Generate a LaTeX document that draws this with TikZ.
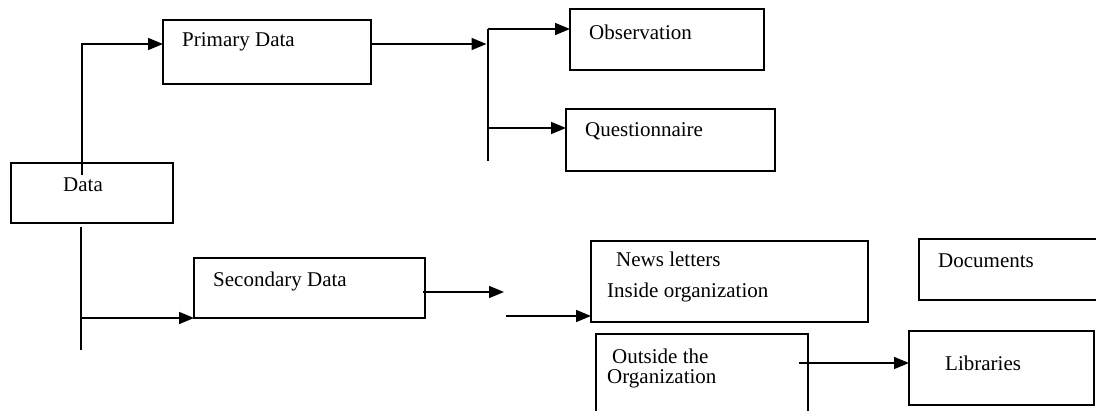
\documentclass[tikz,border=0pt]{standalone}
\usepackage{fontspec}
\setmainfont{Liberation Serif}
\usetikzlibrary{arrows.meta}
\begin{document}
\begin{tikzpicture}[x=1pt,y=-1pt,
  box/.style={draw, line width=1.8pt, inner sep=0pt, outer sep=0pt},
  txt/.style={anchor=west, inner sep=0pt, font=\fontsize{21}{25}\selectfont},
  conn/.style={line width=1.6pt},
  arr/.style={conn, -{Triangle[length=15pt,width=12pt]}}]
\useasboundingbox (0,0) rectangle (1096,411);
% boxes
\node[box, minimum width=162pt, minimum height=60pt] (data) at (92,193) {};
\node[box, minimum width=208pt, minimum height=64pt] (prim) at (267,52) {};
\node[box, minimum width=194pt, minimum height=61pt] (obs) at (667,39.5) {};
\node[box, minimum width=209pt, minimum height=62pt] (ques) at (670.5,140) {};
\node[box, minimum width=231pt, minimum height=60pt] (sec) at (309.5,288) {};
\node[box, minimum width=277pt, minimum height=81pt] (news) at (729.5,281.5) {};
\node[box, minimum width=179pt, minimum height=61pt] (docs) at (1008.5,269.5) {};
\node[box, minimum width=212pt, minimum height=82pt] (out) at (702,375) {};
\node[box, minimum width=185pt, minimum height=74pt] (lib) at (1001.5,368) {};
% texts
\node[txt] (tdata) at (63,185) {Data};
\node[txt] (tprim) at (182,42) {Primary Data};
\node[txt] (tobs) at (589,32) {Observation};
\node[txt] (tques) at (585,131) {Questionnaire};
\node[txt] (tsec) at (213,281) {Secondary Data};
\node[txt] (tnews) at (616,259) {News letters};
\node[txt] (tins) at (607,292) {Inside organization};
\node[txt] (tdocs) at (938,261) {Documents};
\node[txt] (tout1) at (612,356) {Outside the};
\node[txt] (tout2) at (607,379) {Organization};
\node[txt] (tlib) at (945,363) {Libraries};
% junction coordinates
\coordinate (dtop) at (82,175);
\coordinate (pin) at (163,44);
\coordinate (pout) at (371,44);
\coordinate (pend) at (486.5,44);
\coordinate (brtop) at (488,29);
\coordinate (brbot) at (488,161);
\coordinate (brq) at (488,128);
\coordinate (dlow) at (81,227);
\coordinate (dlowend) at (81,350);
\coordinate (dsec) at (81,318);
\coordinate (sout) at (423,292);
\coordinate (send) at (504,292);
\coordinate (nstart) at (506,316);
\coordinate (ostart) at (799,363);
% connectors
\draw[arr] (dtop) |- (pin);
\draw[arr] (pout) -- (pend);
\draw[conn] (brtop) -- (brbot);
\draw[arr] (brtop) -- (obs.west |- brtop);
\draw[arr] (brq) -- (ques.west |- brq);
\draw[conn] (dlow) -- (dlowend);
\draw[arr] (dsec) -- (sec.west |- dsec);
\draw[arr] (sout) -- (send);
\draw[arr] (nstart) -- (news.west |- nstart);
\draw[arr] (ostart) -- (lib.west |- ostart);
\end{tikzpicture}
\end{document}
